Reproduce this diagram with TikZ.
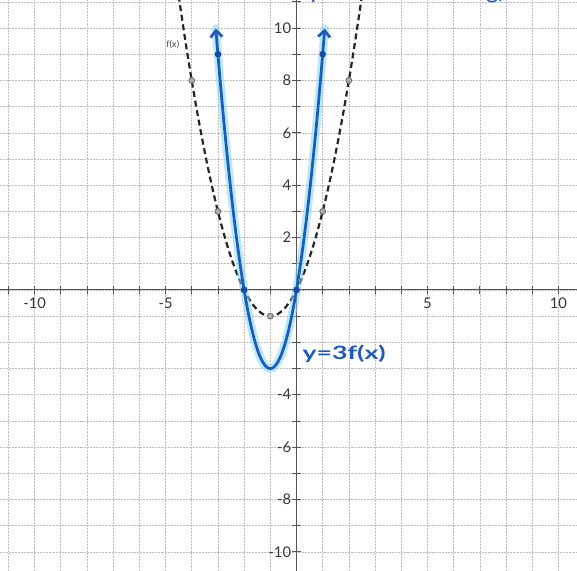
\documentclass[tikz,border=0pt]{standalone}
\usepackage{fontspec}
\setmainfont{Lato}
\usetikzlibrary{arrows.meta}
\definecolor{penblue}{RGB}{30,90,190}
\definecolor{glowc}{RGB}{130,215,240}
\definecolor{gridc}{RGB}{190,190,190}
\definecolor{axisc}{RGB}{85,85,85}
\definecolor{labc}{RGB}{55,55,55}
\tikzset{
  gridline/.style={draw=gridc, densely dotted, line width=0.6pt},
  axisline/.style={draw=axisc, line width=1.1pt},
  ticklab/.style={text=labc, font=\fontsize{16}{16}\selectfont, inner sep=0pt},
  fcurve/.style={draw=black!85, line width=2.4pt, dash pattern=on 6.5pt off 4pt},
  fdot/.style={fill=gray!65, draw=black!60, line width=0.8pt},
  gglow/.style={draw=glowc, line width=9pt, opacity=0.55, line cap=round},
  gcurve/.style={draw=penblue, line width=3pt, line join=round},
  gdot/.style={fill=penblue!85!black},
  penlab/.style={text=penblue, font=\fontsize{20}{20}\selectfont\bfseries, inner sep=0pt}
}
\begin{document}
\begin{tikzpicture}[x=1cm,y=1cm]
\useasboundingbox (-11.32,-10.73) rectangle (10.71,11.07);
\clip (-11.32,-10.73) rectangle (10.71,11.07);
\fill[white] (-11.32,-10.73) rectangle (10.71,11.07);
% grid
\foreach \i in {-11,...,10} \draw[gridline] (\i,-10.73) -- (\i,11.07);
\foreach \j in {-10,...,11} \draw[gridline] (-11.32,\j) -- (10.71,\j);
% axes
\draw[axisline] (-11.32,0) -- (10.71,0);
\draw[axisline] (0,-10.73) -- (0,11.07);
\foreach \i in {-11,...,10} \draw[axisline, line width=0.8pt] (\i,-0.16) -- (\i,0.16);
\foreach \j in {-10,...,11} \draw[axisline, line width=0.8pt] (-0.16,\j) -- (0.16,\j);
% tick labels
\foreach \i/\n in {-10/xm10,-5/xm5,5/x5,10/x10} \node[ticklab] (\n) at (\i,-0.52) {\i};
\foreach \j/\n in {10/y10,8/y8,6/y6,4/y4,2/y2,-4/ym4,-6/ym6,-8/ym8,-10/ym10}
  \node[ticklab, anchor=east] (\n) at (-0.2,\j) {\j};
% f(x) dashed
\draw[fcurve] plot[domain=-4.55:2.55, samples=120, smooth] (\x,{\x*\x+2*\x});
\foreach \a/\n in {-4/fa,-3/fb,-2/fc,-1/fd,0/fe,1/ff,2/fg}
  \fill[fdot] (\a,{\a*\a+2*\a}) circle (3.2pt) coordinate (\n);
\node[text=black!70, font=\fontsize{10}{10}\selectfont, inner sep=0pt] (flab) at (-4.72,9.35) {f(x)};
% y = 3 f(x)
\draw[gglow] plot[domain=-3.08:1.08, samples=120, smooth] (\x,{3*\x*\x+6*\x});
\draw[gcurve, {Straight Barb[length=7pt,width=13pt]}-{Straight Barb[length=7pt,width=13pt]}]
  plot[domain=-3.08:1.08, samples=120, smooth] (\x,{3*\x*\x+6*\x});
\foreach \a/\n in {-3/ga,-2/gb,0/gc,1/gd}
  \fill[gdot] (\a,{3*\a*\a+6*\a}) circle (3.6pt) coordinate (\n);
\node[penlab] (glab) at (1.82,-2.45) {\scalebox{1.45}[1]{y=3f(x)}};
% fragments of handwriting cut off by the top edge
\node[penlab, anchor=base, font=\fontsize{26}{26}\selectfont] (topy) at (0.7,11.12) {y};
\node[penlab, anchor=base, font=\fontsize{26}{26}\selectfont] (topg) at (7.6,11.12) {g)};
\end{tikzpicture}
\end{document}
